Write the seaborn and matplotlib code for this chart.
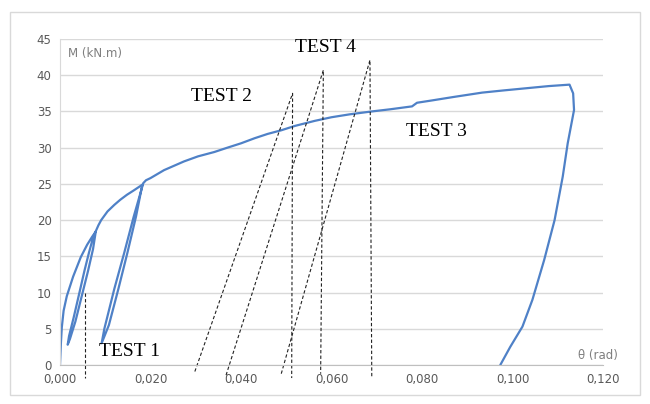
import matplotlib
matplotlib.use("Agg")
import matplotlib.pyplot as plt
import seaborn as sns
import pandas as pd
from matplotlib.patches import Rectangle
from matplotlib.ticker import FuncFormatter

# courbe M-theta (envelope + 2 boucles + dechargement)
theta = [0.0, 0.0002, 0.0004, 0.0008, 0.0015, 0.0029, 0.0046, 0.0060, 0.0071, 0.0079,
         0.0073, 0.0062, 0.0050, 0.0034, 0.0022, 0.0017,
         0.0020, 0.0030, 0.0043, 0.0054, 0.0064, 0.0074, 0.0080,
         0.0085, 0.0091, 0.0105, 0.0120, 0.0133, 0.0148, 0.0163, 0.0175, 0.0182,
         0.0168, 0.0149, 0.0129, 0.0108, 0.0092,
         0.0098, 0.0120, 0.0142, 0.0163, 0.0184,
         0.0190, 0.0200, 0.0230, 0.0274, 0.0305, 0.0341, 0.0370, 0.0400, 0.0430,
         0.0459, 0.0489, 0.0519, 0.0563, 0.0600, 0.0640, 0.0689, 0.0730, 0.0778,
         0.0789, 0.0820, 0.0870, 0.0933, 0.0980, 0.1030, 0.1080, 0.1126,
         0.1134, 0.1136, 0.1122, 0.1111, 0.1093, 0.1070, 0.1044, 0.1022, 0.0995, 0.0973]
moment = [0.0, 3.0, 5.2, 7.5, 9.5, 12.2, 14.9, 16.6, 17.7, 18.4,
          16.0, 13.0, 10.0, 6.0, 3.6, 2.8,
          4.0, 6.5, 10.0, 13.0, 15.5, 17.8, 18.6,
          19.3, 20.0, 21.2, 22.1, 22.8, 23.5, 24.1, 24.6, 24.9,
          20.5, 15.5, 10.5, 5.5, 3.0,
          5.0, 10.5, 15.5, 20.5, 25.1,
          25.5, 25.8, 26.9, 28.1, 28.8, 29.4, 30.0, 30.6, 31.3,
          31.9, 32.4, 33.0, 33.7, 34.2, 34.6, 35.0, 35.3, 35.7,
          36.2, 36.5, 37.0, 37.6, 37.9, 38.2, 38.5, 38.7,
          37.5, 35.2, 30.6, 26.0, 20.0, 14.5, 9.0, 5.3, 2.5, 0.0]

# traits pointilles des essais
test1_x = [0.0055, 0.0055]
test1_y = [10.0, -1.8]
test2_x = [0.0298, 0.0514, 0.0512]
test2_y = [-0.9, 37.5, -1.8]
test3_x = [0.0367, 0.0582, 0.0576]
test3_y = [-1.4, 40.7, -1.2]
test4_x = [0.0489, 0.0685, 0.0689]
test4_y = [-1.2, 42.1, -1.6]

labels = ["TEST 1", "TEST 2", "TEST 4", "TEST 3"]
label_pos = [(0.0153, 1.8), (0.0358, 37.1), (0.0587, 43.8), (0.0833, 32.2)]

sns.set_style("white")
plt.rcParams["font.family"] = ["DejaVu Sans"]

fig = plt.figure(figsize=(6.5, 4.04), dpi=100)
fig.patches.append(Rectangle((10 / 650, 9 / 404), 630 / 650, 383 / 404, transform=fig.transFigure,
                             fill=False, edgecolor="#d9d9d9", linewidth=1))
ax = fig.add_axes([60 / 650, 39 / 404, 543 / 650, 326 / 404])

ax.set_xlim(0, 0.12)
ax.set_ylim(0, 45)
ax.set_xticks([0, 0.02, 0.04, 0.06, 0.08, 0.10, 0.12])
ax.set_yticks(range(0, 46, 5))
ax.xaxis.set_major_formatter(FuncFormatter(lambda v, p: f"{v:.3f}".replace(".", ",")))
ax.grid(axis="y", color="#d9d9d9", linewidth=1)
ax.grid(axis="x", visible=False)
for s in ["top", "right"]:
    ax.spines[s].set_visible(False)
ax.spines["left"].set_color("#d9d9d9")
ax.spines["bottom"].set_color("#bfbfbf")
ax.tick_params(axis="both", colors="#595959", labelsize=8.5, length=0, pad=6)

df = pd.DataFrame({"theta": theta, "M": moment})
sns.lineplot(data=df, x="theta", y="M", sort=False, estimator=None, ax=ax,
             color="#4f81c7", linewidth=1.6)

for xs, ys in [(test1_x, test1_y), (test2_x, test2_y), (test3_x, test3_y), (test4_x, test4_y)]:
    ax.plot(xs, ys, color="#222222", linestyle=(0, (3, 2)), linewidth=0.8, clip_on=False)

for txt, (px, py) in zip(labels, label_pos):
    ax.text(px, py, txt, family="Liberation Serif", fontsize=14, color="black", ha="center", va="center")

ax.text(0.0077, 43.0, "M (kN.m)", color="#7f7f7f", fontsize=8.5, ha="center", va="center")
ax.text(0.1189, 1.3, "θ (rad)", color="#7f7f7f", fontsize=8.5, ha="center", va="center")

ax.set_xlabel("")
ax.set_ylabel("")

fig.savefig("out.png", dpi=100)
